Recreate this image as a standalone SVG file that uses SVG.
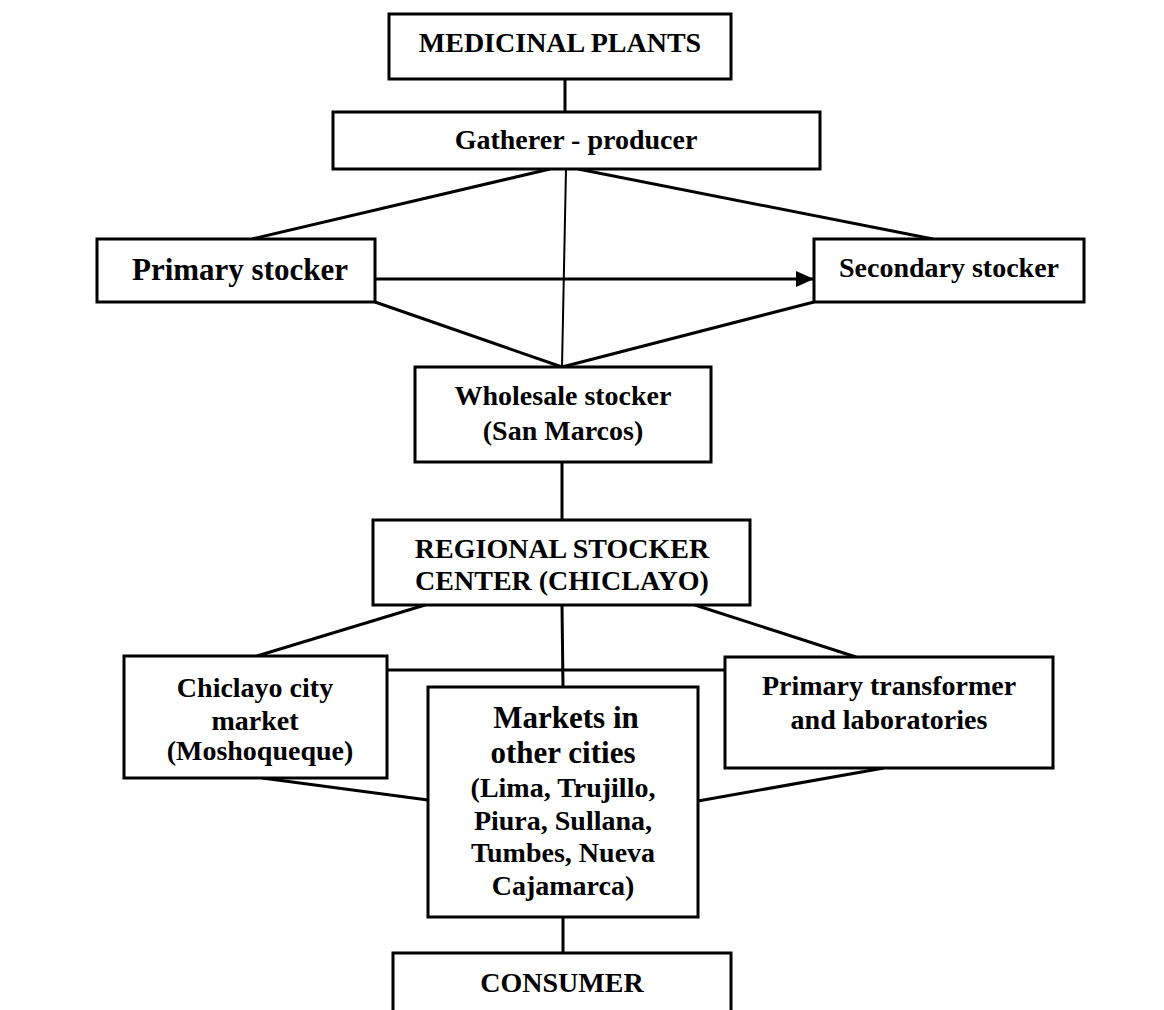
<svg xmlns="http://www.w3.org/2000/svg" width="1164" height="1010" viewBox="0 0 1164 1010">
<defs>
<style>
.box{fill:#fff;stroke:#000;stroke-width:3}
.t{font-family:"Liberation Serif","Times New Roman",serif;font-weight:bold;font-size:28px;fill:#000;text-anchor:middle}
.big{font-size:31px}
.c{stroke:#000;stroke-width:3;fill:none}
.thin{stroke-width:2}
</style>
<marker id="ah" viewBox="0 0 18 16" refX="18" refY="8" markerWidth="18" markerHeight="16" markerUnits="userSpaceOnUse" orient="auto">
<path d="M0,0 L18,8 L0,16 z" fill="#000"/>
</marker>
</defs>
<rect width="1164" height="1010" fill="#fff"/>
<g id="connectors">
<line class="c" x1="565" y1="79" x2="565" y2="112"/>
<line class="c" x1="550" y1="169" x2="252" y2="239"/>
<line class="c" x1="578" y1="169" x2="933" y2="239"/>
<line class="c thin" x1="566" y1="169" x2="562" y2="367"/>
<line class="c" x1="375" y1="279" x2="814" y2="279" marker-end="url(#ah)"/>
<line class="c" x1="375" y1="302" x2="562" y2="367"/>
<line class="c" x1="814" y1="302" x2="562" y2="367"/>
<line class="c" x1="562" y1="462" x2="562" y2="520"/>
<line class="c" x1="425" y1="605" x2="257" y2="656"/>
<line class="c" x1="562" y1="605" x2="563" y2="687"/>
<line class="c" x1="695" y1="605" x2="856" y2="657"/>
<line class="c" x1="387" y1="670" x2="725" y2="670"/>
<line class="c" x1="262" y1="778" x2="428" y2="800"/>
<line class="c" x1="884" y1="768" x2="698" y2="801"/>
<line class="c" x1="563" y1="917" x2="563" y2="953"/>
</g>
<g id="medicinal-plants">
<rect class="box" x="389" y="14" width="342" height="65"/>
<text class="t" x="560" y="52">MEDICINAL PLANTS</text>
</g>
<g id="gatherer-producer">
<rect class="box" x="333" y="112" width="487" height="57"/>
<text class="t" x="576" y="149">Gatherer - producer</text>
</g>
<g id="primary-stocker">
<rect class="box" x="97" y="239" width="278" height="63"/>
<text class="t big" x="240" y="280">Primary stocker</text>
</g>
<g id="secondary-stocker">
<rect class="box" x="814" y="239" width="270" height="63"/>
<text class="t" x="949" y="277">Secondary stocker</text>
</g>
<g id="wholesale-stocker">
<rect class="box" x="415" y="367" width="296" height="95"/>
<text class="t" x="563" y="405">Wholesale stocker</text>
<text class="t" x="563" y="440">(San Marcos)</text>
</g>
<g id="regional-stocker">
<rect class="box" x="373" y="520" width="377" height="85"/>
<text class="t" x="562" y="558">REGIONAL STOCKER</text>
<text class="t" x="562" y="590">CENTER (CHICLAYO)</text>
</g>
<g id="chiclayo-market">
<rect class="box" x="124" y="656" width="263" height="122"/>
<text class="t" x="255" y="697">Chiclayo city</text>
<text class="t" x="255" y="730">market</text>
<text class="t" x="260" y="760">(Moshoqueque)</text>
</g>
<g id="markets-other-cities">
<rect class="box" x="428" y="687" width="270" height="230"/>
<text class="t big" x="566" y="728">Markets in</text>
<text class="t big" x="563" y="763">other cities</text>
<text class="t" x="563" y="797">(Lima, Trujillo,</text>
<text class="t" x="563" y="830">Piura, Sullana,</text>
<text class="t" x="563" y="862">Tumbes, Nueva</text>
<text class="t" x="563" y="895">Cajamarca)</text>
</g>
<g id="primary-transformer">
<rect class="box" x="725" y="657" width="328" height="111"/>
<text class="t" x="889" y="695">Primary transformer</text>
<text class="t" x="889" y="729">and laboratories</text>
</g>
<g id="consumer">
<rect class="box" x="393" y="953" width="338" height="62"/>
<text class="t" x="562" y="992">CONSUMER</text>
</g>
</svg>
